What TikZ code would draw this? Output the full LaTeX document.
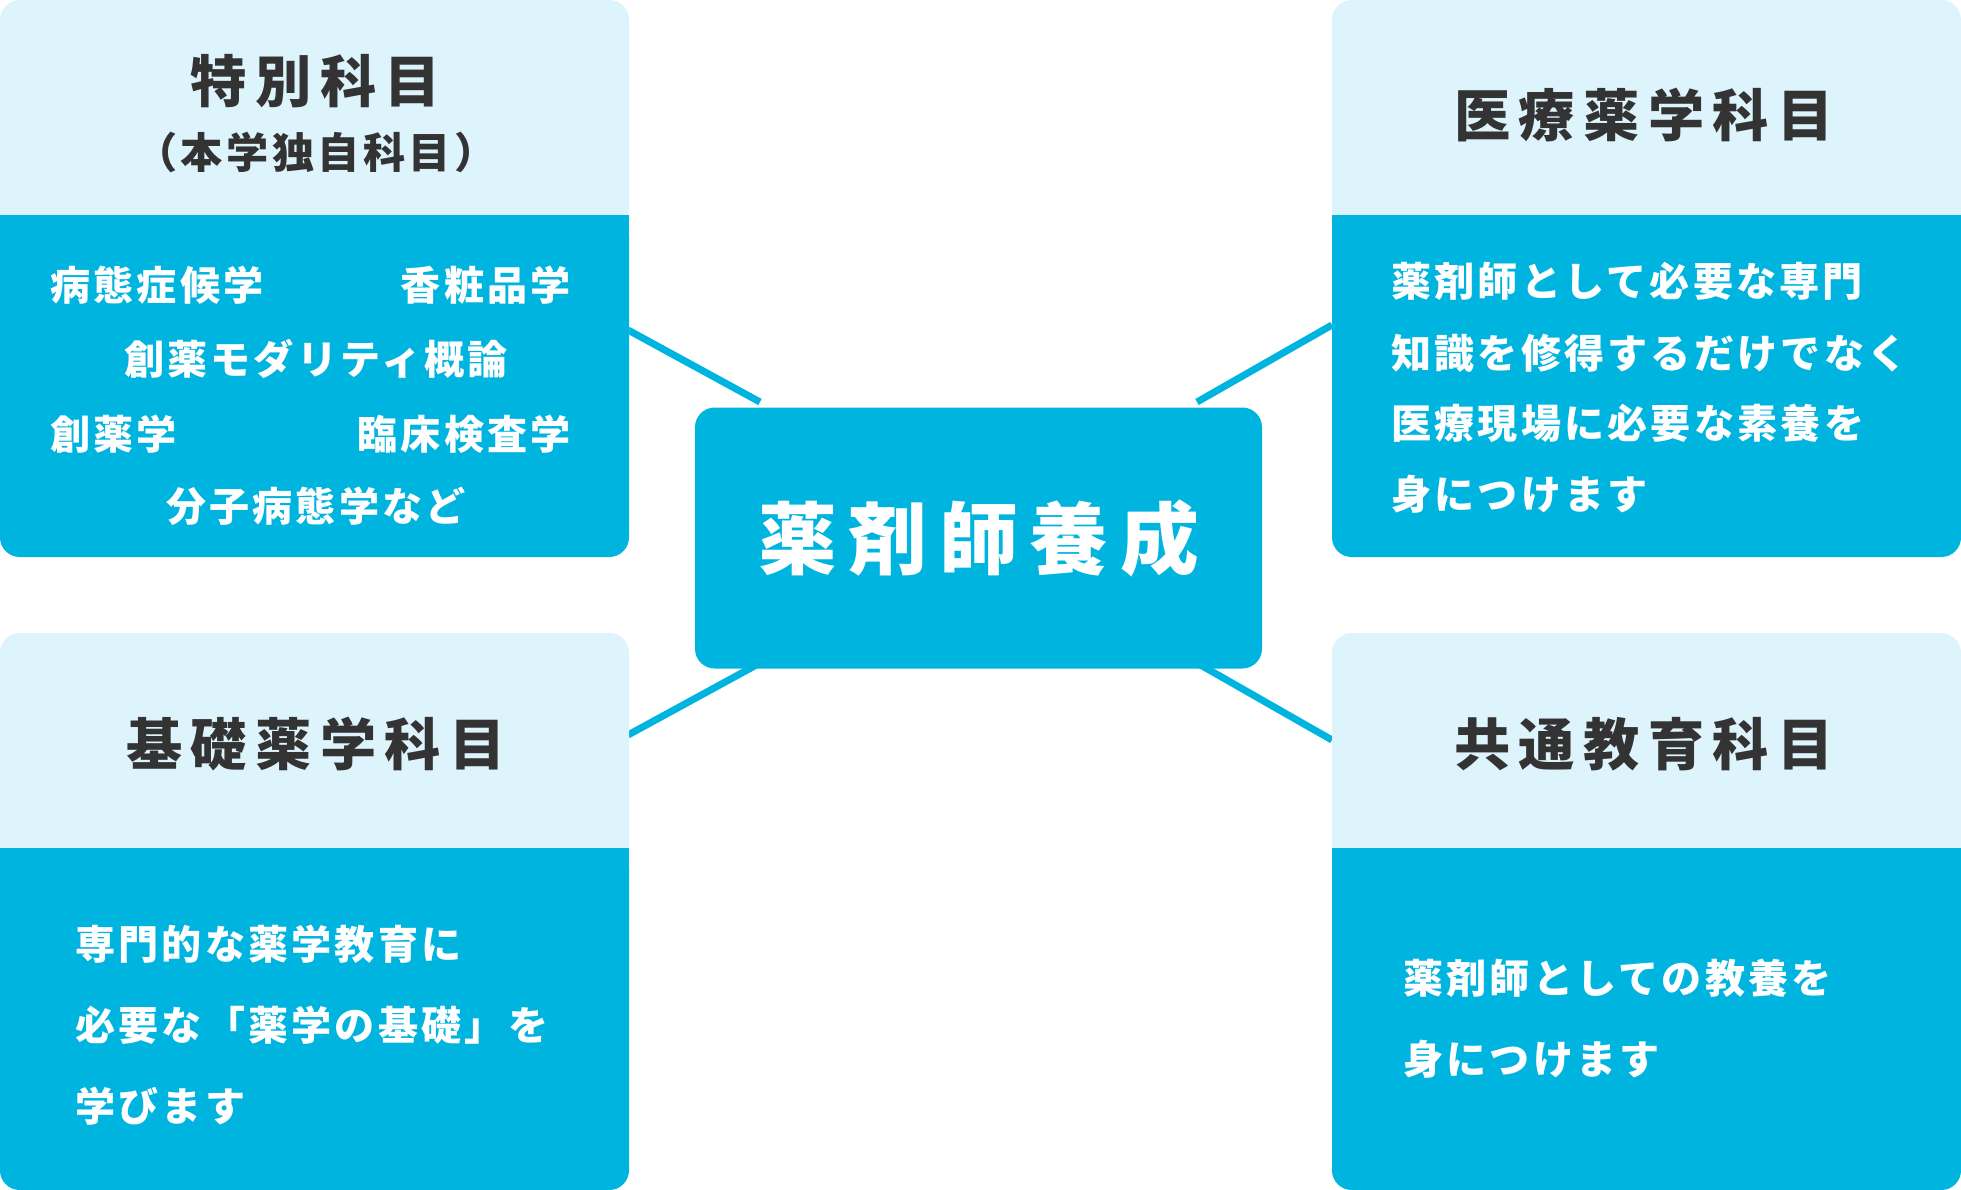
\documentclass[tikz,border=0pt]{standalone}
\usepackage{fontspec}
\newfontfamily\cjk{Noto Sans CJK JP}[LetterSpace=8]
\newfontfamily\cjkb{Noto Sans CJK JP}[LetterSpace=15]
\definecolor{mainb}{HTML}{00B4E0}
\definecolor{lightb}{HTML}{DDF4FD}
\definecolor{dark}{HTML}{333333}
\begin{document}
\begin{tikzpicture}[x=0.025cm,y=-0.025cm,
  conn/.style={draw=mainb,line width=5pt},
  head/.style={font=\cjkb\fontsize{40}{48}\selectfont\bfseries,text=dark},
  body/.style={font=\cjk\fontsize{28.5}{34}\selectfont\bfseries,text=white,inner sep=0},
  lbox/.style={fill=lightb,rounded corners=14pt},
  mbox/.style={fill=mainb,rounded corners=14pt}]
\useasboundingbox (0,0) rectangle (1961,1190);
% connectors
\coordinate (a1) at (628,330); \coordinate (a2) at (760,402);
\coordinate (b1) at (628,735); \coordinate (b2) at (760,663);
\coordinate (c1) at (1332,325); \coordinate (c2) at (1197,402);
\coordinate (d1) at (1332,740); \coordinate (d2) at (1197,663);
\draw[conn] (a1)--(a2); \draw[conn] (b1)--(b2);
\draw[conn] (c1)--(c2); \draw[conn] (d1)--(d2);
% boxes
\foreach \x/\y in {0/0,0/633,1332/0,1332/633}{
  \path[lbox] (\x,\y) rectangle ++(629,557);
  \path[mbox] (\x,\y+215) rectangle ++(629,342);
  \fill[mainb] (\x,\y+215) rectangle ++(629,30);
}
\node[mbox,minimum width=567*0.025cm,minimum height=261*0.025cm,font=\cjkb\fontsize{56}{64}\selectfont\bfseries,text=white] (c) at (978.5,538) {薬剤師養成};
% headers
\node[head] (h1) at (316,81) {特別科目};
\node[head,font=\cjk\fontsize{30}{36}\selectfont\bfseries] (h1b) at (316,152) {（本学独自科目）};
\node[head] (h2) at (1644,115) {医療薬学科目};
\node[head] (h3) at (316,744) {基礎薬学科目};
\node[head] (h4) at (1644,744) {共通教育科目};
% TL body
\node[body,anchor=west] (t1) at (50,285) {病態症候学};
\node[body,anchor=east] (t2) at (571,285) {香粧品学};
\node[body] (t3) at (316,359) {創薬モダリティ概論};
\node[body,anchor=west] (t4) at (50,434) {創薬学};
\node[body,anchor=east] (t5) at (571,434) {臨床検査学};
\node[body] (t6) at (316,506) {分子病態学など};
% TR body
\node[body,anchor=west] (r1) at (1391,281) {薬剤師として必要な専門};
\node[body,anchor=west] (r2) at (1391,353) {知識を修得するだけでなく};
\node[body,anchor=west] (r3) at (1391,423) {医療現場に必要な素養を};
\node[body,anchor=west] (r4) at (1391,494) {身につけます};
% BL body
\node[body,anchor=west] (l1) at (75,944) {専門的な薬学教育に};
\node[body,anchor=west] (l2) at (75,1025) {必要な「薬学の基礎」を};
\node[body,anchor=west] (l3) at (75,1106) {学びます};
% BR body
\node[body,anchor=west] (s1) at (1403,978) {薬剤師としての教養を};
\node[body,anchor=west] (s2) at (1403,1059) {身につけます};
\end{tikzpicture}
\end{document}
